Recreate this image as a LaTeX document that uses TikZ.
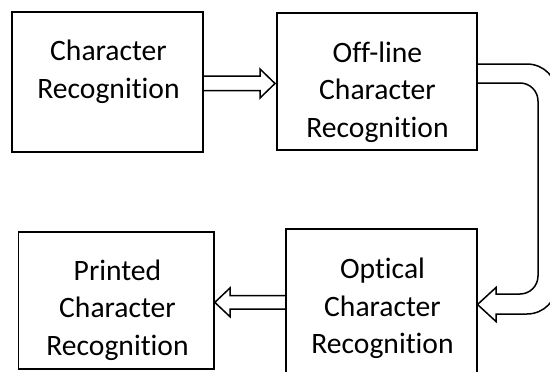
\documentclass[tikz,border=0pt]{standalone}
\usepackage{fontspec}
\setmainfont{Carlito}[Ligatures=NoCommon]
\begin{document}
\begin{tikzpicture}[x=1pt,y=1pt,
  box/.style={draw=black, line width=1.6pt, rectangle, inner sep=0pt},
  caption/.style={align=center, inner sep=0pt, text=black,
    font=\fontsize{29.6}{37.5}\selectfont},
  hollow/.style={draw=black, line width=1.5pt, line join=miter}]
  \useasboundingbox (0,0) rectangle (550,-372);

  % blocks (centre, size)
  \node[box, minimum width=191.3pt, minimum height=140pt] (b1) at (107.35,-81.7) {};
  \node[box, minimum width=199.7pt, minimum height=137.3pt] (b2) at (376.85,-81.35) {};
  \node[box, minimum width=191pt, minimum height=160pt] (b3) at (381.2,-309) {};
  \node[box, minimum width=195.7pt, minimum height=137.3pt] (b4) at (116.15,-300.35) {};

  % block captions
  \node[caption] (t1) at (108.5,-72) {Character\\Recognition};
  \node[caption] (t2) at (377.5,-92) {Off-line\\Character\\Recognition};
  \node[caption] (t3) at (382.5,-308.7) {Optical\\Character\\Recognition};
  \node[caption] (t4) at (117.5,-310) {Printed\\Character\\Recognition};

  % hollow arrow b1 -> b2
  \draw[hollow] (b1.east |- 0,-76) -- (260,-76) -- (260,-69)
    -- (275,-83.5) -- (260,-98) -- (260,-90.7)
    -- (b1.east |- 0,-90.7);

  % hollow U-turn arrow b2 -> b3
  \draw[hollow] (b2.east |- 0,-64) -- (527,-64)
    arc[start angle=90, end angle=0, radius=30] -- (557,-284)
    arc[start angle=0, end angle=-90, radius=30] -- (496,-314)
    -- (496,-321.5) -- (b3.east |- 0,-304.5) -- (496,-287.5) -- (496,-294)
    -- (520,-294) arc[start angle=-90, end angle=0, radius=18] -- (538,-101)
    arc[start angle=0, end angle=90, radius=18] -- (b2.east |- 0,-83);

  % hollow arrow b3 -> b4
  \draw[hollow] (b3.west |- 0,-295.7) -- (230,-295.7) -- (230,-288)
    -- (b4.east |- 0,-302.4) -- (230,-316.7) -- (230,-309)
    -- (b3.west |- 0,-309);
\end{tikzpicture}
\end{document}
